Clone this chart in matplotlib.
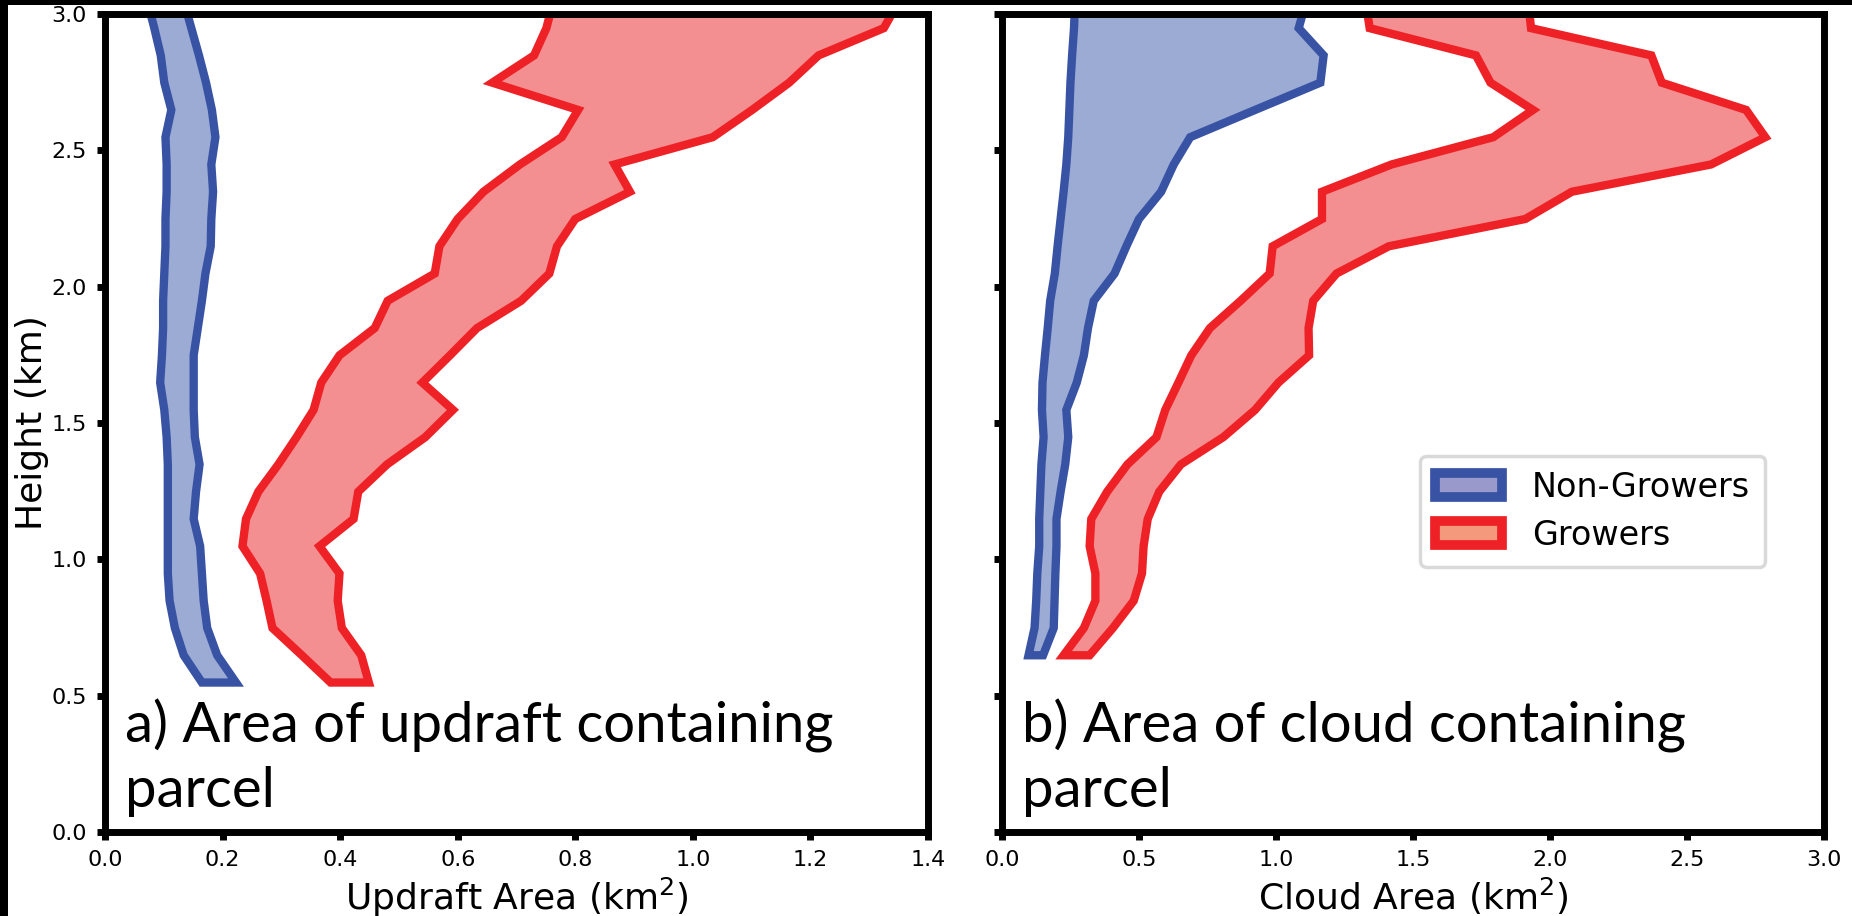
import matplotlib
matplotlib.use("Agg")
import matplotlib.pyplot as plt
from matplotlib.patches import Patch, Rectangle

# ---------------- data ----------------
heights_a = [0.55, 0.65, 0.75, 0.85, 0.95, 1.05, 1.15, 1.25, 1.35, 1.45, 1.55, 1.65, 1.75,
             1.85, 1.95, 2.05, 2.15, 2.25, 2.35, 2.45, 2.55, 2.65, 2.75, 2.85, 2.95, 3.05]
nongrow_updraft_lo = [0.164, 0.133, 0.118, 0.109, 0.106, 0.106, 0.106, 0.106, 0.106, 0.104, 0.100, 0.093, 0.096,
                      0.098, 0.098, 0.100, 0.102, 0.102, 0.104, 0.104, 0.102, 0.112, 0.100, 0.094, 0.083, 0.071]
nongrow_updraft_hi = [0.222, 0.190, 0.173, 0.167, 0.164, 0.161, 0.150, 0.154, 0.160, 0.152, 0.150, 0.150, 0.150,
                      0.157, 0.164, 0.170, 0.179, 0.180, 0.183, 0.180, 0.187, 0.181, 0.171, 0.159, 0.146, 0.133]
grow_updraft_lo = [0.383, 0.334, 0.284, 0.274, 0.263, 0.233, 0.239, 0.260, 0.294, 0.325, 0.354, 0.367, 0.398,
                   0.458, 0.480, 0.560, 0.568, 0.599, 0.643, 0.705, 0.776, 0.804, 0.658, 0.729, 0.750, 0.762]
grow_updraft_hi = [0.448, 0.435, 0.402, 0.395, 0.398, 0.364, 0.422, 0.430, 0.479, 0.544, 0.591, 0.539, 0.586,
                   0.632, 0.707, 0.755, 0.768, 0.799, 0.892, 0.866, 1.033, 1.100, 1.163, 1.213, 1.324, 1.350]

heights_b = [0.65, 0.75, 0.85, 0.95, 1.05, 1.15, 1.25, 1.35, 1.45, 1.55, 1.65, 1.75,
             1.85, 1.95, 2.05, 2.15, 2.25, 2.35, 2.45, 2.55, 2.65, 2.75, 2.85, 2.95, 3.05]
nongrow_cloud_lo = [0.095, 0.117, 0.123, 0.127, 0.134, 0.134, 0.138, 0.142, 0.150, 0.144, 0.146, 0.155,
                    0.165, 0.174, 0.191, 0.201, 0.212, 0.223, 0.233, 0.240, 0.244, 0.248, 0.254, 0.261, 0.265]
nongrow_cloud_hi = [0.148, 0.187, 0.190, 0.193, 0.197, 0.197, 0.212, 0.229, 0.240, 0.233, 0.271, 0.297,
                    0.312, 0.333, 0.409, 0.452, 0.498, 0.579, 0.625, 0.685, 0.922, 1.160, 1.172, 1.081, 1.109]
grow_cloud_lo = [0.223, 0.297, 0.339, 0.339, 0.318, 0.324, 0.382, 0.456, 0.562, 0.594, 0.642, 0.689,
                 0.757, 0.869, 0.975, 0.986, 1.166, 1.166, 1.420, 1.791, 1.936, 1.781, 1.728, 1.340, 1.325]
grow_cloud_hi = [0.318, 0.403, 0.479, 0.509, 0.515, 0.530, 0.572, 0.651, 0.806, 0.922, 1.007, 1.119,
                 1.117, 1.134, 1.219, 1.410, 1.908, 2.078, 2.586, 2.784, 2.714, 2.406, 2.368, 1.929, 1.918]

series_labels = ["Non-Growers", "Growers"]
panel_texts = ["a) Area of updraft containing", "b) Area of cloud containing"]
panel_text2 = "parcel"
xlabels = ["Updraft Area (km$^2$)", "Cloud Area (km$^2$)"]
ylabel = "Height (km)"

# ---------------- style ----------------
BLUE_EDGE = "#3953a4"
BLUE_FILL = "#9babd4"
RED_EDGE = "#ee2226"
RED_FILL = "#f48f91"
LEG_BLUE_FILL = "#9999cc"
LEG_RED_FILL = "#f4997c"

W, H = 1852, 916
fig = plt.figure(figsize=(W / 100, H / 100), dpi=100)
fig.patch.set_facecolor("white")

def fx(px):
    return px / W

def fy(py):
    return 1 - py / H

axA = fig.add_axes([fx(105), fy(832), fx(928 - 105), (832 - 14) / H])
axB = fig.add_axes([fx(1002), fy(832), fx(1824 - 1002), (832 - 14) / H])

for ax in (axA, axB):
    for s in ax.spines.values():
        s.set_linewidth(5)
    ax.tick_params(direction="out", length=6, width=5, labelsize=16, pad=7)
    ax.set_ylim(0, 3.0)
    ax.set_yticks([0.0, 0.5, 1.0, 1.5, 2.0, 2.5, 3.0])

lw = 6
axA.fill_betweenx(heights_a, nongrow_updraft_lo, nongrow_updraft_hi, facecolor=BLUE_FILL,
                  edgecolor=BLUE_EDGE, linewidth=lw, joinstyle="miter", zorder=2)
axA.fill_betweenx(heights_a, grow_updraft_lo, grow_updraft_hi, facecolor=RED_FILL,
                  edgecolor=RED_EDGE, linewidth=lw, joinstyle="miter", zorder=2)
axB.fill_betweenx(heights_b, nongrow_cloud_lo, nongrow_cloud_hi, facecolor=BLUE_FILL,
                  edgecolor=BLUE_EDGE, linewidth=lw, joinstyle="miter", zorder=2)
axB.fill_betweenx(heights_b, grow_cloud_lo, grow_cloud_hi, facecolor=RED_FILL,
                  edgecolor=RED_EDGE, linewidth=lw, joinstyle="miter", zorder=2)

axA.set_xlim(0, 1.4)
axA.set_xticks([0.0, 0.2, 0.4, 0.6, 0.8, 1.0, 1.2, 1.4])
axB.set_xlim(0, 3.0)
axB.set_xticks([0.0, 0.5, 1.0, 1.5, 2.0, 2.5, 3.0])
axB.tick_params(labelleft=False)

axA.set_xlabel(xlabels[0], fontsize=26, labelpad=4)
axB.set_xlabel(xlabels[1], fontsize=26, labelpad=4)
axA.set_ylabel(ylabel, fontsize=26, labelpad=2)

for ax, t in zip((axA, axB), panel_texts):
    ax.text(0.024, 0.110, t, transform=ax.transAxes, fontsize=40.5, family="Lato",
            va="baseline", ha="left")
    ax.text(0.024, 0.031, panel_text2, transform=ax.transAxes, fontsize=40.5, family="Lato",
            va="baseline", ha="left")

handles = [Patch(facecolor=LEG_BLUE_FILL, edgecolor=BLUE_EDGE, linewidth=7),
           Patch(facecolor=LEG_RED_FILL, edgecolor=RED_EDGE, linewidth=7)]
leg = axB.legend(handles, series_labels, loc="upper left", bbox_to_anchor=(0.509, 0.46),
                 borderaxespad=0, fontsize=24, handlelength=2.0, handleheight=0.7,
                 handletextpad=0.9, borderpad=0.45, labelspacing=0.45, fancybox=True,
                 framealpha=1)
leg.get_frame().set_edgecolor("#d9d9d9")
leg.get_frame().set_linewidth(2.5)

# black strips at the top and left edges of the original image
fig.patches.append(Rectangle((0, fy(5)), 1, 5 / H, transform=fig.transFigure,
                             facecolor="black", edgecolor="none", zorder=10))
fig.patches.append(Rectangle((0, 0), fx(8), 1, transform=fig.transFigure,
                             facecolor="black", edgecolor="none", zorder=10))

fig.savefig("out.png", dpi=100)
